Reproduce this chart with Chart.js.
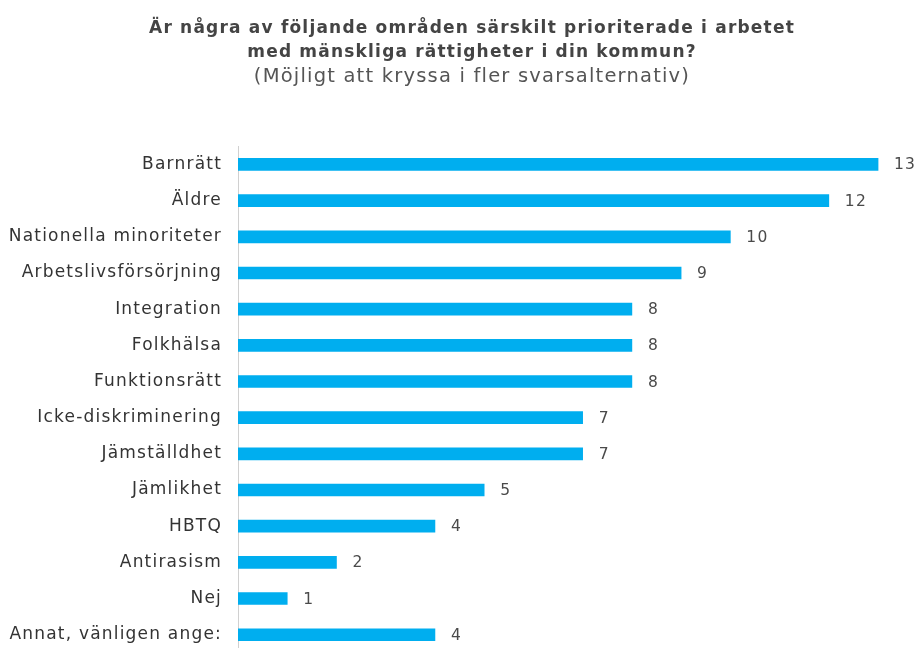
<!DOCTYPE html>
<html>
<head>
<meta charset="utf-8">
<script src="https://cdn.jsdelivr.net/npm/chart.js@4"></script>
<style>
  html, body { margin: 0; padding: 0; background: #fff; }
  #wrap { width: 914px; height: 648px; overflow: hidden; }
  #wrap canvas { display: block; }
</style>
</head>
<body>
<div id="wrap"><canvas id="prioChart" width="914" height="679"></canvas></div>
<script>
var categories = ["Barnrätt", "Äldre", "Nationella minoriteter", "Arbetslivsförsörjning",
  "Integration", "Folkhälsa", "Funktionsrätt", "Icke-diskriminering", "Jämställdhet",
  "Jämlikhet", "HBTQ", "Antirasism", "Nej", "Annat, vänligen ange:"];
var answers = [13, 12, 10, 9, 8, 8, 8, 7, 7, 5, 4, 2, 1, 4];
var titleLines = ["Är några av följande områden särskilt prioriterade i arbetet",
  "med mänskliga rättigheter i din kommun?"];
var subtitleText = "(Möjligt att kryssa i fler svarsalternativ)";

var FONT = "'DejaVu Sans', sans-serif";

// the original uses a wide font, so open up the letters a bit
var wideText = {
  id: 'wideText',
  beforeDraw: function(chart) {
    chart.ctx.letterSpacing = '1.2px';
  }
};

// values written to the right of each bar
var valueLabels = {
  id: 'valueLabels',
  afterDatasetsDraw: function(chart) {
    var ctx = chart.ctx;
    var meta = chart.getDatasetMeta(0);
    ctx.save();
    ctx.font = "15.5px " + FONT;
    ctx.fillStyle = '#4a4a4a';
    ctx.textAlign = 'left';
    ctx.textBaseline = 'middle';
    meta.data.forEach(function(bar, i) {
      ctx.fillText(chart.data.datasets[0].data[i], bar.x + 16, bar.y + 1);
    });
    ctx.restore();
  }
};

var ctx = document.getElementById('prioChart').getContext('2d');
var chart = new Chart(ctx, {
  type: 'bar',
  data: {
    labels: categories,
    datasets: [{
      label: "Antal",
      backgroundColor: '#00aeef',
      data: answers,
      barThickness: 12
    }]
  },
  plugins: [wideText, valueLabels],
  options: {
    indexAxis: 'y',
    responsive: false,
    animation: false,
    layout: { padding: { left: 30, right: 0, top: 0, bottom: 0 } },
    scales: {
      x: {
        display: false,
        min: 0,
        max: 13.73
      },
      y: {
        grid: { display: false, drawTicks: false },
        border: { display: true, color: '#d0d0d0', width: 1 },
        ticks: {
          color: '#333',
          padding: 16,
          font: { family: FONT, size: 17 }
        },
        afterFit: function(scale) {
          scale.width = 208;
          // long labels run past the left padding, don't clip them
          scale._computeLabelArea = function() {};
        }
      }
    },
    plugins: {
      legend: { display: false },
      tooltip: { enabled: false },
      title: {
        display: true,
        text: titleLines,
        color: '#444',
        font: { family: FONT, size: 17, weight: 'bold', lineHeight: 1.4 },
        padding: { top: 17, bottom: 0 }
      },
      subtitle: {
        display: true,
        text: subtitleText,
        color: '#555',
        font: { family: FONT, size: 19.5, weight: 'normal', lineHeight: 1.27 },
        padding: { top: 0, bottom: 57 }
      }
    }
  }
});
</script>
</body>
</html>
